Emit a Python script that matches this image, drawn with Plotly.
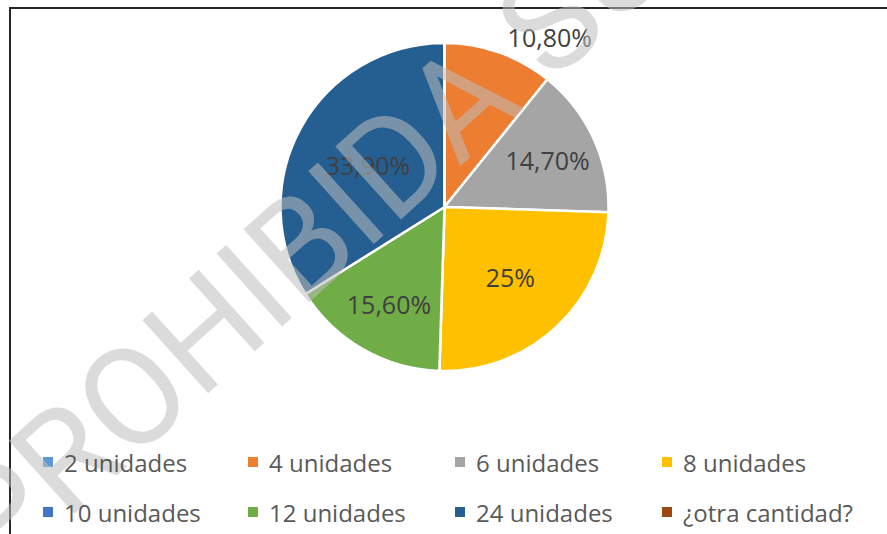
import plotly.graph_objects as go

# ---- data ----
categories = ["2 unidades", "4 unidades", "6 unidades", "8 unidades",
              "10 unidades", "12 unidades", "24 unidades", "¿otra cantidad?"]
values = [0, 10.8, 14.7, 25.0, 0, 15.6, 33.9, 0]
value_labels = ["", "10,80%", "14,70%", "25%", "", "15,60%", "33,90%", ""]
colors = ["#5B9BD5", "#ED7D31", "#A5A5A5", "#FFC000",
          "#4472C4", "#70AD47", "#255E91", "#9E480E"]
watermark = "PROHIBIDA SU"

W, H = 887, 534
cx, cy, r = 444.5, 207.0, 164.0

textpos = ["none" if v == 0 else "inside" for v in values]
textpos[1] = "outside"

fig = go.Figure()
fig.add_trace(go.Pie(
    labels=categories,
    values=values,
    text=value_labels,
    texttemplate="%{text}",
    textposition=textpos,
    insidetextorientation="horizontal",
    sort=False,
    direction="clockwise",
    rotation=0,
    marker=dict(colors=colors, line=dict(color="white", width=2.5)),
    textfont=dict(family="Open Sans", size=25, color="#404040"),
    outsidetextfont=dict(family="Open Sans", size=25, color="#404040"),
    insidetextfont=dict(family="Open Sans", size=25, color="#404040"),
    domain=dict(x=[(cx - r) / W, (cx + r) / W], y=[1 - (cy + r) / H, 1 - (cy - r) / H]),
    showlegend=False,
    hoverinfo="label+percent",
))

shapes = []
annotations = []

# watermark
annotations.append(dict(
    text=watermark, x=308 / W, y=1 - 240 / H, xref="paper", yref="paper",
    xanchor="center", yanchor="middle", showarrow=False, textangle=-42,
    font=dict(family="Roboto", size=138, color="rgba(190,190,190,0.55)"),
))

# chart border
shapes.append(dict(type="rect", xref="paper", yref="paper",
                   x0=10 / W, x1=1.05, y0=-0.05, y1=1 - 8 / H,
                   line=dict(color="#262626", width=2), fillcolor="rgba(0,0,0,0)", layer="above"))

# legend (4 columns x 2 rows)
col_x = [43, 248, 455, 662]
row_y = [462, 512]
for i, (name, col) in enumerate(zip(categories, colors)):
    x = col_x[i % 4]
    y = row_y[i // 4]
    shapes.append(dict(type="rect", xref="paper", yref="paper",
                       x0=x / W, x1=(x + 10) / W, y0=1 - (y + 5) / H, y1=1 - (y - 5) / H,
                       line=dict(width=0), fillcolor=col))
    annotations.append(dict(
        text=name, x=(x + 19) / W, y=1 - y / H, xref="paper", yref="paper",
        xanchor="left", yanchor="middle", showarrow=False,
        font=dict(family="Open Sans", size=24, color="#595959"),
    ))

fig.update_layout(
    width=W, height=H,
    margin=dict(l=0, r=0, t=0, b=0),
    paper_bgcolor="white",
    plot_bgcolor="white",
    shapes=shapes,
    annotations=annotations,
)

fig.write_html("out.html",
               config={"displayModeBar": False},
               post_script="document.body.style.margin='0px';document.body.style.overflow='hidden';")
